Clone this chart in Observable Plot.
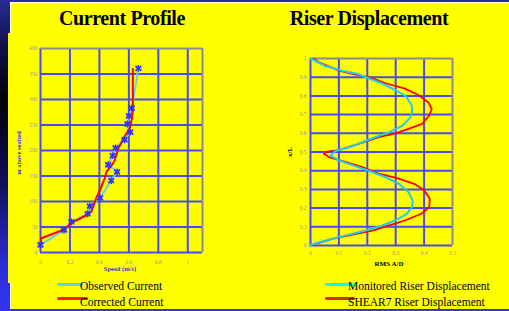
<!DOCTYPE html>
<html>
<head>
<meta charset="utf-8">
<script src="https://cdn.jsdelivr.net/npm/d3@7"></script>
<script src="https://cdn.jsdelivr.net/npm/@observablehq/plot@0.6"></script>
<style>
  html, body { margin: 0; padding: 0; }
  body { width: 509px; height: 311px; overflow: hidden; position: relative;
    background: linear-gradient(to bottom, #2a2a9a 0%, #10104a 15%, #000008 32%, #101060 60%, #2c2cd8 85%, #3535f0 100%);
    font-family: "Liberation Serif", "DejaVu Serif", serif; }
  .abs { position: absolute; }
  .plotwrap { position: absolute; left: 0; top: 0; }
  .title { font-weight: bold; font-size: 20px; color: #000; white-space: nowrap; transform: translateX(-50%); letter-spacing: -0.4px; }
  .leg { font-size: 11.5px; color: #000; white-space: nowrap; }
  .sw { position: absolute; height: 3px; border-radius: 1.5px; }
</style>
</head>
<body>
<div class="abs" style="left:10px;top:2px;width:499px;height:306px;background:#ffff00;border-top:1px solid #fff;border-left:1px solid #fff;border-bottom:1px solid #fff;"></div>
<div class="abs" style="left:0;top:309px;width:509px;height:2px;background:#3333ff;"></div>
<div class="abs" style="left:8px;top:33px;width:12px;height:250px;background:#ffff00;"></div>

<div class="abs title" style="left:122px;top:7px;">Current Profile</div>
<div class="abs title" style="left:369px;top:7px;">Riser Displacement</div>

<div id="p1" class="plotwrap"></div>
<div id="p2" class="plotwrap"></div>

<div class="abs" style="left:120px;top:265px;transform:translateX(-50%);font-size:6.5px;font-weight:bold;color:#3a3ad0;white-space:nowrap;">Speed (m/s)</div>
<div class="abs" style="left:18px;top:153px;transform:translate(-50%,-50%) rotate(-90deg);font-size:6.5px;font-weight:bold;color:#3a3ad0;white-space:nowrap;">m above seabed</div>
<div class="abs" style="left:389px;top:260px;transform:translateX(-50%);font-size:7px;font-weight:bold;color:#000;white-space:nowrap;">RMS A/D</div>
<div class="abs" style="left:290px;top:152px;transform:translate(-50%,-50%) rotate(-90deg);font-size:7px;font-weight:bold;color:#000;white-space:nowrap;">x/L</div>

<div class="sw" style="left:57px;top:283px;width:26px;background:#66ccff;"></div>
<div class="abs leg" style="left:80px;top:280px;">Observed Current</div>
<div class="sw" style="left:57px;top:297px;width:31px;background:#ff2000;"></div>
<div class="abs leg" style="left:80px;top:296px;">Corrected Current</div>
<div class="sw" style="left:325px;top:283px;width:30px;background:#00ffff;"></div>
<div class="abs leg" style="left:348px;top:280px;">Monitored Riser Displacement</div>
<div class="sw" style="left:325px;top:297px;width:30px;background:#cc3300;"></div>
<div class="abs leg" style="left:348px;top:296px;">SHEAR7 Riser Displacement</div>

<script>
// ---- Current Profile data ----
const speedTicks = [0, 0.2, 0.4, 0.6, 0.8, 1];
const heightTicks = [0, 50, 100, 150, 200, 250, 300, 350, 400];
const obsSpeed  = [0, 0.16, 0.21, 0.32, 0.335, 0.405, 0.48, 0.52, 0.46, 0.49, 0.51, 0.57, 0.61, 0.59, 0.60, 0.62, 0.665];
const obsHeight = [15, 44, 60, 76, 91, 107, 141, 158, 172, 190, 205, 221, 236, 252, 268, 283, 361];
const corSpeed  = [0, 0.005, 0.16, 0.21, 0.32, 0.345, 0.365, 0.38, 0.405, 0.435, 0.45, 0.48, 0.50, 0.53, 0.57, 0.605, 0.62, 0.627, 0.627];
const corHeight = [18, 28, 45, 58, 74, 80, 96, 108, 123, 145, 159, 170, 178, 205, 227, 243, 261, 279, 360];

// ---- Riser Displacement data ----
const rmsTicks = [0, 0.1, 0.2, 0.3, 0.4, 0.5];
const xlTicks = [0, 0.1, 0.2, 0.3, 0.4, 0.5, 0.6, 0.7, 0.8, 0.9, 1];
const monXL  = [0, 0.005, 0.027, 0.054, 0.08, 0.107, 0.135, 0.17, 0.205, 0.24, 0.286, 0.33, 0.365, 0.40, 0.43, 0.455, 0.48, 0.505, 0.525, 0.56, 0.58, 0.605, 0.64, 0.685, 0.72, 0.75, 0.80, 0.83, 0.865, 0.90, 0.92, 0.935, 0.96, 1.0];
const monRMS = [0, 0.006, 0.053, 0.124, 0.194, 0.253, 0.30, 0.34, 0.357, 0.36, 0.345, 0.311, 0.265, 0.205, 0.147, 0.10, 0.07, 0.088, 0.135, 0.195, 0.23, 0.276, 0.323, 0.352, 0.358, 0.356, 0.335, 0.30, 0.254, 0.195, 0.16, 0.11, 0.053, 0];
const shXL  = [0, 0.014, 0.036, 0.062, 0.08, 0.108, 0.135, 0.17, 0.205, 0.25, 0.295, 0.33, 0.36, 0.385, 0.42, 0.446, 0.473, 0.49, 0.50, 0.51, 0.55, 0.58, 0.60, 0.625, 0.65, 0.695, 0.73, 0.765, 0.805, 0.84, 0.865, 0.90, 0.91, 0.935, 0.98, 1.0];
const shRMS = [0, 0.03, 0.077, 0.16, 0.218, 0.277, 0.335, 0.39, 0.418, 0.42, 0.40, 0.365, 0.305, 0.24, 0.18, 0.124, 0.065, 0.047, 0.053, 0.10, 0.183, 0.24, 0.30, 0.347, 0.393, 0.418, 0.427, 0.415, 0.38, 0.33, 0.27, 0.205, 0.17, 0.10, 0.03, 0.01];

const obs = obsSpeed.map((s, i) => ({s, h: obsHeight[i]}));
const cor = corSpeed.map((s, i) => ({s, h: corHeight[i]}));
const mon = monXL.map((y, i) => ({x: monRMS[i], y}));
const sh = shXL.map((y, i) => ({x: shRMS[i], y}));

const gridColor = "#4a4af5";
const frameColor = "#8a8a9a";
const baseStyle = {background: "transparent", overflow: "visible", color: "#9a9a9a", fontSize: "5.5px", fontFamily: "Liberation Serif, serif"};

const p1 = Plot.plot({
  width: 509, height: 311,
  marginLeft: 40, marginRight: 307, marginTop: 48, marginBottom: 59,
  style: baseStyle,
  x: {domain: [0, 1.1], ticks: speedTicks, tickSize: 0, tickPadding: 8, label: null, tickFormat: d => String(d)},
  y: {domain: [0, 400], ticks: heightTicks, tickSize: 0, tickPadding: 3, label: null},
  marks: [
    Plot.ruleX(speedTicks, {stroke: gridColor, strokeWidth: 2}),
    Plot.ruleY(heightTicks.slice(0, -1), {stroke: gridColor, strokeWidth: 2}),
    Plot.ruleY([400], {stroke: frameColor, strokeWidth: 2}),
    Plot.ruleX([1.1], {stroke: frameColor, strokeWidth: 2}),
    Plot.line(obs, {x: "s", y: "h", stroke: "#66ccff", strokeWidth: 2}),
    Plot.line(cor, {x: "s", y: "h", stroke: "#ff0000", strokeWidth: 2}),
    Plot.dot(obs, {x: "s", y: "h", symbol: "asterisk", r: 3.2, stroke: "#3333ff", strokeWidth: 1.5}),
    Plot.dot(obs, {x: "s", y: "h", symbol: "times", r: 2.6, stroke: "#3333ff", strokeWidth: 1.2})
  ]
});
document.getElementById("p1").appendChild(p1);

const p2 = Plot.plot({
  width: 509, height: 311,
  marginLeft: 310, marginRight: 57, marginTop: 58, marginBottom: 66,
  style: baseStyle,
  x: {domain: [0, 0.5], ticks: rmsTicks, tickSize: 0, tickPadding: 6, label: null, tickFormat: d => String(d)},
  y: {domain: [0, 1], ticks: xlTicks, tickSize: 0, tickPadding: 4, label: null, tickFormat: d => String(d)},
  marks: [
    Plot.ruleX(rmsTicks.slice(0, -1), {stroke: gridColor, strokeWidth: 2}),
    Plot.ruleY(xlTicks.slice(0, -1), {stroke: gridColor, strokeWidth: 2}),
    Plot.ruleY([1], {stroke: frameColor, strokeWidth: 2}),
    Plot.ruleX([0.5], {stroke: frameColor, strokeWidth: 2}),
    Plot.line(sh, {x: "x", y: "y", stroke: "#ff0000", strokeWidth: 1.8}),
    Plot.line(mon, {x: "x", y: "y", stroke: "#22ccee", strokeWidth: 2})
  ]
});
document.getElementById("p2").appendChild(p2);
</script>
</body>
</html>
